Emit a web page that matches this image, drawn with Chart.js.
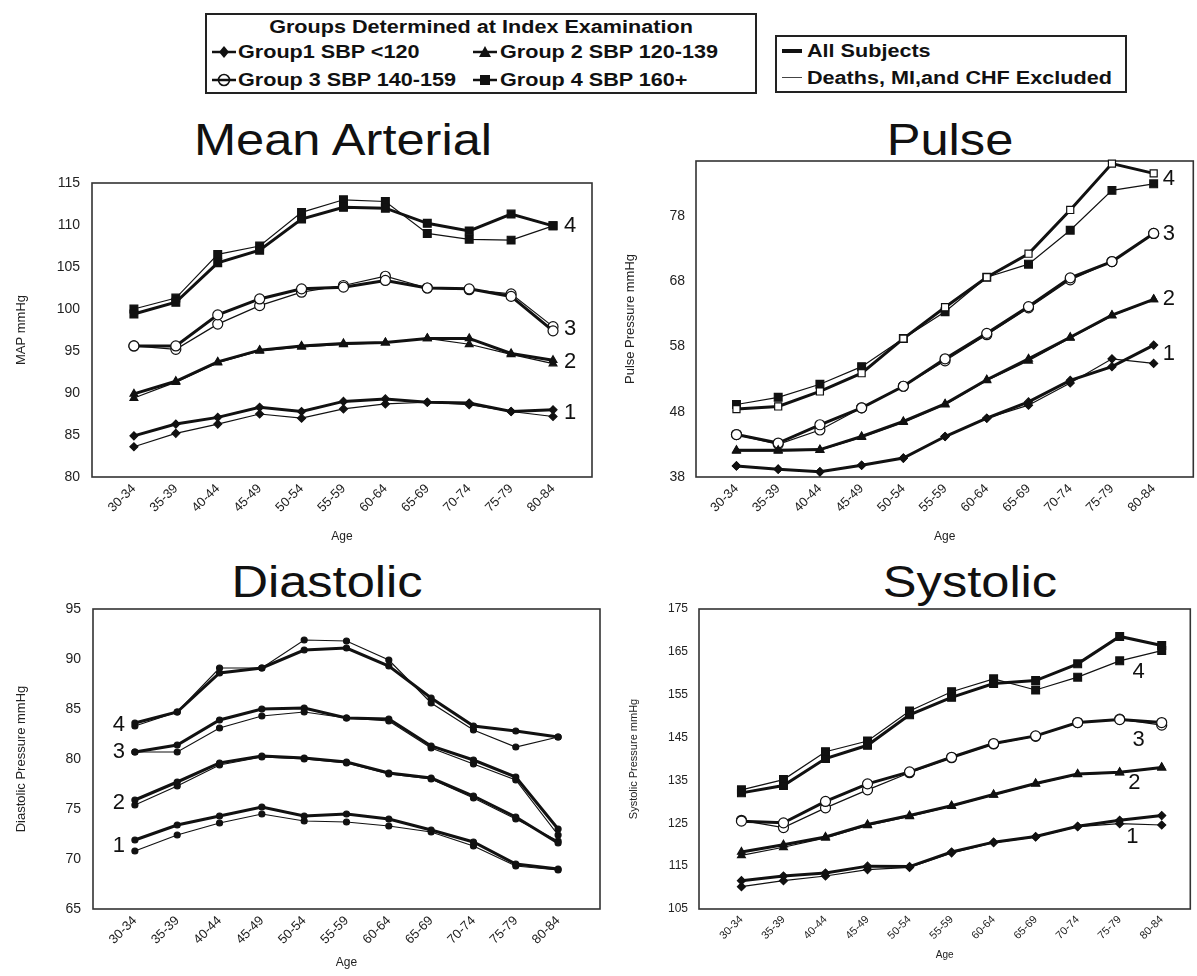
<!DOCTYPE html>
<html>
<head>
<meta charset="utf-8">
<script src="https://cdn.jsdelivr.net/npm/chart.js@4.4.1/dist/chart.umd.min.js"></script>
<style>
  body { margin: 0; width: 1197px; height: 976px; overflow: hidden; background: #fff; position: relative;
         font-family: "Liberation Sans", Arial, sans-serif; color: #111; }
  canvas { position: absolute; }
  .title { position: absolute; font-size: 44px; line-height: 44px; white-space: nowrap;
           transform: translateX(-50%) scaleX(1.15); }
  .box { position: absolute; border: 2px solid #222; box-sizing: border-box; }
  .box div, .box svg { position: absolute; }
  .lt { font-size: 18px; line-height: 22px; font-weight: bold; white-space: nowrap;
        transform: scaleX(1.2); transform-origin: 0 0; }
</style>
</head>
<body>

<div class="box" style="left:205px;top:13px;width:552px;height:81px">
  <div class="lt" style="left:50%;top:1px;transform:translateX(-60%) scaleX(1.2)">Groups Determined at Index Examination</div>
  <svg style="left:5px;top:29px" width="24" height="16"><line x1="0" y1="8" x2="24" y2="8" stroke="#111" stroke-width="2.5"/><polygon points="12,2 17,8 12,14 7,8" fill="#111"/></svg>
  <div class="lt" style="left:31px;top:26px">Group1 SBP &lt;120</div>
  <svg style="left:266px;top:29px" width="24" height="16"><line x1="0" y1="8" x2="24" y2="8" stroke="#111" stroke-width="2.5"/><polygon points="12,2 18,13 6,13" fill="#111"/></svg>
  <div class="lt" style="left:293px;top:26px">Group 2 SBP 120-139</div>
  <svg style="left:5px;top:57px" width="24" height="16"><line x1="0" y1="8" x2="24" y2="8" stroke="#111" stroke-width="2.5"/><circle cx="12" cy="8" r="5.5" fill="#fff" stroke="#111" stroke-width="1.6"/><line x1="6" y1="8" x2="18" y2="8" stroke="#111" stroke-width="2.5"/></svg>
  <div class="lt" style="left:31px;top:54px">Group 3 SBP 140-159</div>
  <svg style="left:266px;top:57px" width="24" height="16"><line x1="0" y1="8" x2="24" y2="8" stroke="#111" stroke-width="2.5"/><rect x="7" y="3" width="10" height="10" fill="#111"/></svg>
  <div class="lt" style="left:293px;top:54px">Group 4 SBP 160+</div>
</div>

<div class="box" style="left:775px;top:35px;width:352px;height:58px">
  <div style="left:5px;top:12px;width:20px;height:4px;background:#111"></div>
  <div class="lt" style="left:30px;top:3px">All Subjects</div>
  <div style="left:5px;top:40px;width:20px;height:1px;background:#444"></div>
  <div class="lt" style="left:30px;top:30px">Deaths, MI,and CHF Excluded</div>
</div>

<div class="title" style="left:343px;top:118px">Mean Arterial</div>
<div class="title" style="left:950px;top:118px">Pulse</div>
<div class="title" style="left:327px;top:560px">Diastolic</div>
<div class="title" style="left:970px;top:560px">Systolic</div>

<canvas id="mapChart" width="600" height="383" style="left:0;top:170px"></canvas>
<canvas id="pulseChart" width="580" height="403" style="left:620px;top:150px"></canvas>
<canvas id="diaChart" width="608" height="380" style="left:0;top:596px"></canvas>
<canvas id="sysChart" width="577" height="380" style="left:620px;top:596px"></canvas>

<script>
// Age groups on every x axis
const ageGroups = ['30-34', '35-39', '40-44', '45-49', '50-54', '55-59', '60-64', '65-69', '70-74', '75-79', '80-84'];

// Mean arterial pressure, mmHg (All = all subjects, Excl = deaths, MI and CHF excluded)
const mapAll1  = [84.9, 86.3, 87.1, 88.3, 87.8, 89.0, 89.3, 88.9, 88.8, 87.8, 88.0];
const mapExcl1 = [83.6, 85.2, 86.3, 87.5, 87.0, 88.1, 88.7, 88.9, 88.6, 87.8, 87.2];
const mapAll2  = [89.9, 91.4, 93.7, 95.1, 95.6, 95.9, 96.0, 96.5, 96.5, 94.7, 93.9];
const mapExcl2 = [89.4, 91.3, 93.6, 95.0, 95.5, 95.8, 96.0, 96.5, 95.8, 94.6, 93.5];
const mapAll3  = [95.6, 95.6, 99.3, 101.2, 102.4, 102.6, 103.4, 102.5, 102.4, 101.5, 97.4];
const mapExcl3 = [95.6, 95.2, 98.2, 100.4, 102.0, 102.8, 103.9, 102.5, 102.3, 101.8, 97.9];
const mapAll4  = [99.4, 100.8, 105.5, 107.0, 110.7, 112.1, 112.0, 110.2, 109.3, 111.3, 109.9];
const mapExcl4 = [100.0, 101.3, 106.5, 107.5, 111.5, 113.0, 112.8, 109.0, 108.3, 108.2, 109.9];
const mapTicks = [80, 85, 90, 95, 100, 105, 110, 115];

// Pulse pressure, mmHg
const pulseAll1  = [39.7, 39.2, 38.8, 39.8, 40.9, 44.2, 47.0, 49.5, 52.8, 54.9, 58.2];
const pulseExcl1 = [39.7, 39.2, 38.8, 39.8, 40.9, 44.2, 47.0, 49.0, 52.4, 56.1, 55.4];
const pulseAll2  = [42.1, 42.1, 42.2, 44.2, 46.5, 49.2, 52.9, 56.1, 59.4, 62.8, 65.2];
const pulseExcl2 = [42.0, 42.0, 42.1, 44.1, 46.4, 49.1, 52.8, 55.8, 59.3, 62.7, 65.2];
const pulseAll3  = [44.5, 43.2, 46.0, 48.6, 51.9, 56.1, 60.0, 64.1, 68.5, 71.0, 75.3];
const pulseExcl3 = [44.5, 43.0, 45.2, 48.6, 51.9, 55.8, 59.8, 63.9, 68.2, 71.0, 75.3];
const pulseAll4  = [48.4, 48.8, 51.1, 53.9, 59.2, 64.0, 68.6, 72.2, 78.9, 86.0, 84.5];
const pulseExcl4 = [49.1, 50.2, 52.2, 54.9, 59.2, 63.3, 68.6, 70.6, 75.8, 81.9, 82.9];
const pulseTicks = [38, 48, 58, 68, 78];

// Diastolic pressure, mmHg
const diaAll1  = [71.9, 73.4, 74.3, 75.2, 74.3, 74.5, 74.0, 72.9, 71.7, 69.5, 69.0];
const diaExcl1 = [70.8, 72.4, 73.6, 74.5, 73.8, 73.7, 73.3, 72.7, 71.3, 69.3, 68.9];
const diaAll2  = [75.9, 77.7, 79.6, 80.3, 80.1, 79.7, 78.6, 78.1, 76.3, 74.2, 71.6];
const diaExcl2 = [75.4, 77.3, 79.4, 80.2, 80.0, 79.6, 78.5, 78.0, 76.1, 74.0, 71.8];
const diaAll3  = [80.7, 81.4, 83.9, 85.0, 85.1, 84.1, 84.0, 81.3, 79.9, 78.2, 73.0];
const diaExcl3 = [80.7, 80.7, 83.1, 84.3, 84.7, 84.1, 83.8, 81.1, 79.5, 77.9, 72.4];
const diaAll4  = [83.6, 84.7, 88.6, 89.1, 90.9, 91.1, 89.3, 86.1, 83.3, 82.8, 82.2];
const diaExcl4 = [83.3, 84.7, 89.1, 89.1, 91.9, 91.8, 89.9, 85.6, 82.9, 81.2, 82.2];
const diaTicks = [65, 70, 75, 80, 85, 90, 95];

// Systolic pressure, mmHg
const sysAll1  = [111.6, 112.7, 113.4, 115.0, 114.9, 118.3, 120.6, 121.9, 124.3, 125.7, 126.8];
const sysExcl1 = [110.2, 111.6, 112.7, 114.2, 114.7, 118.1, 120.5, 121.8, 124.2, 124.9, 124.6];
const sysAll2  = [118.3, 120.0, 121.8, 124.7, 126.8, 129.1, 131.7, 134.3, 136.5, 136.9, 138.0];
const sysExcl2 = [117.5, 119.4, 121.6, 124.5, 126.6, 129.0, 131.6, 134.2, 136.4, 136.8, 138.0];
const sysAll3  = [125.5, 125.1, 130.1, 134.2, 137.0, 140.4, 143.6, 145.4, 148.5, 149.2, 148.5];
const sysExcl3 = [125.7, 124.0, 128.6, 132.8, 136.8, 140.3, 143.5, 145.3, 148.5, 149.3, 147.9];
const sysAll4  = [132.1, 133.8, 140.1, 143.2, 150.3, 154.4, 157.6, 158.3, 162.2, 168.6, 166.5];
const sysExcl4 = [132.8, 135.2, 141.7, 144.2, 151.2, 155.7, 158.7, 156.1, 159.1, 162.9, 165.3];
const sysTicks = [105, 115, 125, 135, 145, 155, 165, 175];

const FONT = '"Liberation Sans", Arial, sans-serif';
const INK = '#111';

// marker per group: diamond, triangle, open circle, square
const markers = [
  { style: 'rectRot', r: 4, fill: INK },
  { style: 'triangle', r: 4.5, fill: INK },
  { style: 'circle', r: 5, fill: '#fff' },
  { style: 'rect', r: 5.5, fill: INK }
];
const dots = [0, 1, 2, 3].map(() => ({ style: 'circle', r: 3, fill: INK }));
const pulseAllMarkers = [markers[0], markers[1], markers[2], { style: 'rect', r: 5, fill: '#fff' }];

// box round the plot area
const framePlugin = {
  id: 'frame',
  beforeDatasetsDraw(chart) {
    const { ctx, chartArea: a } = chart;
    ctx.save();
    ctx.strokeStyle = '#333';
    ctx.lineWidth = 1.6;
    ctx.strokeRect(a.left, a.top, a.right - a.left, a.bottom - a.top);
    ctx.restore();
  }
};

// the big 1..4 group numbers next to the lines
const groupNumbers = {
  id: 'groupNumbers',
  afterDatasetsDraw(chart, args, opts) {
    const { ctx, scales: { x, y } } = chart;
    ctx.save();
    ctx.font = '22px ' + FONT;
    ctx.fillStyle = INK;
    ctx.textBaseline = 'middle';
    ctx.textAlign = opts.align || 'left';
    opts.items.forEach(it => {
      ctx.fillText(it.text, x.getPixelForValue(it.x) + (opts.dx || 0), y.getPixelForValue(it.y));
    });
    ctx.restore();
  }
};

function groupSeries(all, excl, allMarks, exclMarks) {
  const ds = [];
  for (let g = 0; g < 4; g++) {
    [[all[g], 3, 'All Subjects', allMarks[g]], [excl[g], 1.2, 'Deaths, MI,and CHF Excluded', exclMarks[g]]].forEach(([vals, w, name, m]) => {
      ds.push({
        label: 'Group ' + (g + 1) + ' ' + name,
        data: vals.map((v, i) => ({ x: i, y: v })),
        borderColor: INK,
        borderWidth: w,
        pointStyle: m.style,
        pointRadius: m.r,
        pointBackgroundColor: m.fill,
        pointBorderColor: INK,
        pointBorderWidth: 1.2,
        tension: 0,
        clip: 10
      });
    });
  }
  return ds;
}

function panel(id, o) {
  return new Chart(document.getElementById(id), {
    type: 'line',
    data: { datasets: groupSeries(o.all, o.excl, o.allMarks || markers, o.exclMarks || markers) },
    options: {
      responsive: false,
      animation: false,
      layout: { padding: { top: o.padTop, right: o.padRight, left: 0, bottom: 0 } },
      plugins: {
        legend: { display: false },
        tooltip: { enabled: false },
        groupNumbers: o.numbers
      },
      scales: {
        x: {
          type: 'linear',
          min: o.xMin,
          max: o.xMax,
          afterBuildTicks: s => { s.ticks = ageGroups.map((_, i) => ({ value: i })); },
          afterFit: s => { s.height = o.xHeight; s.paddingLeft = 0; s.paddingRight = 0; },
          grid: { display: false, drawTicks: false },
          border: { display: false },
          ticks: {
            autoSkip: false, minRotation: 45, maxRotation: 45, padding: 4,
            color: '#222', font: { family: FONT, size: o.xTickSize },
            callback: v => ageGroups[v]
          },
          title: {
            display: true, text: 'Age', color: '#222',
            font: { family: FONT, size: o.ageSize },
            padding: { top: 0, bottom: o.agePad }
          }
        },
        y: {
          min: o.yMin,
          max: o.yMax,
          afterBuildTicks: s => { s.ticks = o.yTicks.map(v => ({ value: v })); },
          afterFit: s => { s.width = o.yWidth; s.paddingTop = 0; s.paddingBottom = 0; },
          grid: { display: false, drawTicks: false },
          border: { display: false },
          ticks: { color: '#222', font: { family: FONT, size: o.yTickSize }, padding: o.yPad },
          title: {
            display: true, text: o.yTitle, color: '#222',
            font: { family: FONT, size: o.yTitleSize },
            padding: { top: o.yTitlePad, bottom: 0 }
          }
        }
      }
    },
    plugins: [framePlugin, groupNumbers]
  });
}

const numLabels = ['1', '2', '3', '4'];
const endNumbers = (all, excl, i) => numLabels.map((t, g) => ({ text: t, x: i, y: (all[g][i] + excl[g][i]) / 2 }));

const mapAll = [mapAll1, mapAll2, mapAll3, mapAll4];
const mapExcl = [mapExcl1, mapExcl2, mapExcl3, mapExcl4];
panel('mapChart', {
  all: mapAll, excl: mapExcl,
  xMin: -1.0, xMax: 10.93, yMin: 80, yMax: 115, yTicks: mapTicks,
  padTop: 13, padRight: 8, xHeight: 76, yWidth: 92, yPad: 12,
  xTickSize: 13, yTickSize: 14, ageSize: 12, agePad: 9,
  yTitle: 'MAP mmHg', yTitleSize: 13, yTitlePad: 14,
  numbers: { align: 'left', dx: 11, items: endNumbers(mapAll, mapExcl, 10) }
});

const pulseAll = [pulseAll1, pulseAll2, pulseAll3, pulseAll4];
const pulseExcl = [pulseExcl1, pulseExcl2, pulseExcl3, pulseExcl4];
panel('pulseChart', {
  all: pulseAll, excl: pulseExcl, allMarks: pulseAllMarkers,
  xMin: -0.97, xMax: 10.95, yMin: 38, yMax: 86.4, yTicks: pulseTicks,
  padTop: 11, padRight: 0, xHeight: 76, yWidth: 76, yPad: 11,
  xTickSize: 13, yTickSize: 14, ageSize: 12, agePad: 9,
  yTitle: 'Pulse Pressure mmHg', yTitleSize: 13, yTitlePad: 3,
  numbers: { align: 'left', dx: 9, items: endNumbers(pulseAll, pulseExcl, 10) }
});

const diaAll = [diaAll1, diaAll2, diaAll3, diaAll4];
const diaExcl = [diaExcl1, diaExcl2, diaExcl3, diaExcl4];
panel('diaChart', {
  all: diaAll, excl: diaExcl, allMarks: dots, exclMarks: dots,
  xMin: -0.99, xMax: 10.99, yMin: 65, yMax: 95, yTicks: diaTicks,
  padTop: 13, padRight: 8, xHeight: 67, yWidth: 93, yPad: 12,
  xTickSize: 13, yTickSize: 14, ageSize: 12, agePad: 6,
  yTitle: 'Diastolic Pressure mmHg', yTitleSize: 13, yTitlePad: 14,
  numbers: { align: 'right', dx: -10, items: endNumbers(diaAll, diaExcl, 0) }
});

panel('sysChart', {
  all: [sysAll1, sysAll2, sysAll3, sysAll4], excl: [sysExcl1, sysExcl2, sysExcl3, sysExcl4],
  xMin: -1.01, xMax: 10.68, yMin: 105, yMax: 175, yTicks: sysTicks,
  padTop: 13, padRight: 2, xHeight: 67, yWidth: 79, yPad: 11,
  xTickSize: 11, yTickSize: 12, ageSize: 10, agePad: 15,
  yTitle: 'Systolic Pressure mmHg', yTitleSize: 11, yTitlePad: 7,
  numbers: { align: 'center', dx: 0, items: [
    { text: '1', x: 9.3, y: 121.8 },
    { text: '2', x: 9.35, y: 134.4 },
    { text: '3', x: 9.45, y: 144.4 },
    { text: '4', x: 9.45, y: 160.3 }
  ] }
});
</script>
</body>
</html>
